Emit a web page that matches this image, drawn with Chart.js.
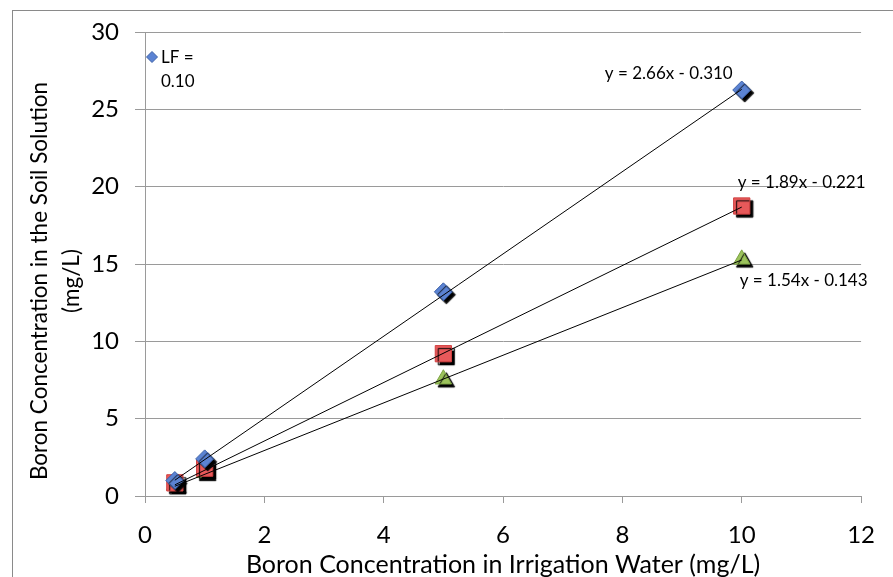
<!DOCTYPE html>
<html>
<head>
<meta charset="utf-8">
<script src="https://cdn.jsdelivr.net/npm/chart.js@4.4.0/dist/chart.umd.min.js"></script>
<style>
  html, body { margin: 0; padding: 0; background: #fff; }
  #wrap { width: 893px; height: 577px; position: relative; }
</style>
</head>
<body>
<div id="wrap"><canvas id="c" width="893" height="577"></canvas></div>
<script>
// ---- data ----
const irrigationX = [0.5, 1, 5, 10];
const lf010 = [1.0, 2.4, 13.2, 26.25];
const lf015 = [0.85, 1.8, 9.2, 18.75];
const lf020 = [0.7, 1.5, 7.55, 15.3];

const trendX = [0.5, 10];
const trend010 = [1.02, 26.29];
const trend015 = [0.72, 18.68];
const trend020 = [0.63, 15.26];

const trendLabels = ['y = 2.66x - 0.310', 'y = 1.89x - 0.221', 'y = 1.54x - 0.143'];
const legendText = ['LF =', '0.10'];
const xTicks = [0, 2, 4, 6, 8, 10, 12];
const yTicks = [0, 5, 10, 15, 20, 25, 30];
const xTitle = 'Boron Concentration in Irrigation Water (mg/L)';
const yTitle = ['Boron Concentration in the Soil Solution', '(mg/L)'];

const pts = (xs, ys) => xs.map((x, i) => ({x: x, y: ys[i]}));

const FONT = 'Lato, "Open Sans", sans-serif';
const GRID = '#9a9a9a';
const TEXT = '#000';

const blue = '#5b83d3', blueB = '#3e62a8';
const red = '#e8595a', redB = '#d04040';
const green = '#9cc35c', greenB = '#7da443';

const shadowPlugin = {
  id: 'shadow',
  beforeDatasetDraw(chart, args) {
    const ds = chart.data.datasets[args.index];
    if (ds.isMarker) {
      const ctx = chart.ctx;
      ctx.save();
      ctx.shadowColor = 'rgba(0,0,0,1)';
      ctx.shadowOffsetX = 3;
      ctx.shadowOffsetY = 3;
      ctx.shadowBlur = 1;
    }
  },
  afterDatasetDraw(chart, args) {
    const ds = chart.data.datasets[args.index];
    if (ds.isMarker) chart.ctx.restore();
  }
};

const decorPlugin = {
  id: 'decor',
  beforeDraw(chart) {
    const ctx = chart.ctx;
    ctx.save();
    ctx.fillStyle = '#fff';
    ctx.fillRect(0, 0, chart.width, chart.height);
    ctx.strokeStyle = '#8a8a8a';
    ctx.lineWidth = 1;
    ctx.strokeRect(12.5, 10.5, chart.width + 50, chart.height + 50);
    ctx.restore();
  },
  afterDraw(chart) {
    const ctx = chart.ctx;
    const xs = chart.scales.x, ys = chart.scales.y;
    const area = chart.chartArea;
    ctx.save();
    // y-axis title (two lines, rotated)
    ctx.save();
    ctx.translate(40, (area.top + area.bottom) / 2 + 17);
    ctx.rotate(-Math.PI / 2);
    ctx.font = '22.5px ' + FONT;
    ctx.fillStyle = TEXT;
    ctx.textAlign = 'center';
    ctx.textBaseline = 'middle';
    ctx.fillText(yTitle[0], 0, 0);
    ctx.fillText(yTitle[1], 0, 32);
    ctx.restore();

    ctx.font = '17px ' + FONT;
    ctx.fillStyle = TEXT;
    // trendline equations, anchored to last data point of each series
    const last = irrigationX.length - 1;
    const px = xs.getPixelForValue(irrigationX[last]);
    ctx.textBaseline = 'middle';
    ctx.textAlign = 'right';
    ctx.fillText(trendLabels[0], px - 9, ys.getPixelForValue(lf010[last]) - 16);
    ctx.textAlign = 'left';
    ctx.fillText(trendLabels[1], px - 4, ys.getPixelForValue(lf015[last]) - 23);
    ctx.fillText(trendLabels[2], px - 2, ys.getPixelForValue(lf020[last]) + 21);
    // legend (only first entry visible)
    const lx = area.left + 7, ly = area.top + 25;
    ctx.beginPath();
    ctx.moveTo(lx - 5.5, ly); ctx.lineTo(lx, ly - 5.5); ctx.lineTo(lx + 5.5, ly); ctx.lineTo(lx, ly + 5.5);
    ctx.closePath();
    ctx.fillStyle = blue; ctx.fill();
    ctx.strokeStyle = blueB; ctx.lineWidth = 1; ctx.stroke();
    ctx.fillStyle = TEXT;
    ctx.textAlign = 'left';
    ctx.fillText(legendText[0], lx + 9, ly + 1);
    ctx.fillText(legendText[1], lx + 9, ly + 25);
    ctx.restore();
  }
};

const markerDs = (label, data, style, r, fill, border) => ({
  type: 'scatter', label: label, data: data, isMarker: true, order: 2,
  pointStyle: style, pointRadius: r, pointHoverRadius: r,
  backgroundColor: fill, borderColor: border, borderWidth: 1, showLine: false
});
const trendDs = (data) => ({
  type: 'line', data: data, order: 0, borderColor: '#000', borderWidth: 1,
  pointRadius: 0, fill: false, tension: 0
});

new Chart(document.getElementById('c'), {
  data: {
    datasets: [
      markerDs('LF = 0.10', pts(irrigationX, lf010), 'rectRot', 9, blue, blueB),
      markerDs('LF = 0.15', pts(irrigationX, lf015), 'rect', 11.5, red, redB),
      markerDs('LF = 0.20', pts(irrigationX, lf020), 'triangle', 9.5, green, greenB),
      trendDs(pts(trendX, trend010)),
      trendDs(pts(trendX, trend015)),
      trendDs(pts(trendX, trend020))
    ]
  },
  options: {
    responsive: false,
    animation: false,
    devicePixelRatio: 1,
    layout: { padding: { left: 0, top: 32, right: 29, bottom: 0 } },
    plugins: { legend: { display: false }, tooltip: { enabled: false }, title: { display: false } },
    scales: {
      x: {
        type: 'linear', min: 0, max: 12,
        afterBuildTicks(s) { s.ticks = xTicks.map(v => ({value: v})); },
        afterFit(s) { s.height = 81; },
        grid: { display: true, drawOnChartArea: false, drawTicks: true, tickLength: 7, color: GRID, lineWidth: 1 },
        border: { display: true, color: GRID, width: 1 },
        ticks: { font: { family: FONT, size: 24 }, color: TEXT, padding: 18, maxRotation: 0 },
        title: { display: true, text: xTitle, font: { family: FONT, size: 25, lineHeight: 1 }, color: TEXT, padding: { top: 0, bottom: 0 } }
      },
      y: {
        type: 'linear', min: 0, max: 30,
        afterBuildTicks(s) { s.ticks = yTicks.map(v => ({value: v})); },
        afterFit(s) { s.width = 145; },
        grid: { display: true, drawOnChartArea: true, drawTicks: true, tickLength: 10, color: GRID, lineWidth: 1 },
        border: { display: true, color: GRID, width: 1 },
        ticks: { font: { family: FONT, size: 24 }, color: TEXT, padding: 16 },
        title: { display: false }
      }
    }
  },
  plugins: [shadowPlugin, decorPlugin]
});
</script>
</body>
</html>
